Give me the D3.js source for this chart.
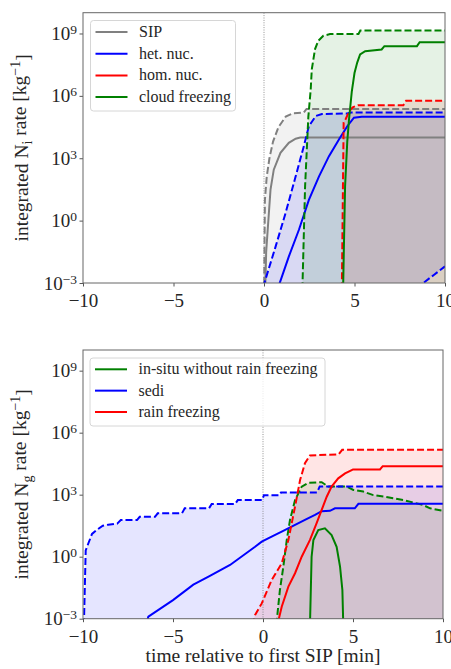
<!DOCTYPE html>
<html><head><meta charset="utf-8">
<script src="https://cdn.jsdelivr.net/npm/d3@7"></script>
<style>
body{margin:0;background:#fff}
svg{display:block}
svg text{font-family:"Liberation Serif","Times New Roman",serif !important;fill:#262626}
.tk{font-size:19px}
.lab{font-size:19.5px}
.leg{font-size:16px}
</style>
</head><body>
<svg id="c" width="451" height="669" font-family="Liberation Serif"></svg>
<script>
const FONT = "'Liberation Serif', 'Times New Roman', serif";
// ---------- shared axis data ----------
const xTicks = [-10, -5, 0, 5, 10];
const yTickExps = [-3, 0, 3, 6, 9];
const xDomain = [-10, 10];
const yDomainExp = [-3, 10];

// ---------- top panel: integrated N_i rate (pairs: [time min, log10 value]) ----------
const topNames = ["SIP", "het. nuc.", "hom. nuc.", "cloud freezing"];
const topColors = ["#808080", "#0000ff", "#ff0000", "#008000"];

const sipUpper = [[0,-4],[0.05,1.0],[0.15,2.1],[0.3,3.0],[0.5,3.8],[0.8,4.5],[1.2,5.0],[1.6,5.16],[2.2,5.2],[2.35,5.37],[10,5.37]];
const sipMedian = [[0.05,-4],[0.12,-1.5],[0.2,-0.5],[0.36,1.49],[0.54,2.45],[0.91,3.26],[1.37,3.74],[1.75,3.94],[2.0,4.0],[10,4.0]];
const sipLower = [[0,-6],[10,-6]];

const hetUpper = [[-0.05,-3.2],[0.64,-1.25],[1.19,0.36],[1.75,2.13],[2.2,3.58],[2.48,4.54],[2.86,5.03],[3.2,5.13],[4.6,5.15],[4.8,5.2],[10,5.2]];
const hetMedian = [[0.75,-3.3],[1.37,-1.73],[1.93,-0.44],[2.48,1.0],[3.04,2.13],[3.59,3.1],[4.14,3.9],[4.6,4.54],[4.97,4.95],[5.4,5.0],[10,5.0]];
const hetLower = [[-0.05,-6],[8.6,-6],[8.8,-3.0],[9.4,-2.6],[10,-2.2]];

const homUpper = [[4.3,-3.3],[4.4,4.72],[4.52,4.9],[4.7,5.25],[4.9,5.45],[5.2,5.55],[7.7,5.55],[7.85,5.77],[10,5.77]];
const homMedian = [];
const homLower = [[4.3,-6],[10,-6]];

const cloudUpper = [[2.12,-3.3],[2.27,1.65],[2.45,5.0],[2.58,6.3],[2.64,7.28],[2.82,8.25],[3.0,8.65],[3.28,8.89],[3.65,8.97],[5.22,8.98],[5.32,9.14],[10,9.14]];
const cloudMedian = [[4.37,-3.3],[4.48,1.65],[4.6,3.8],[4.7,4.9],[4.85,6.2],[5.0,7.1],[5.15,7.6],[5.31,7.99],[5.59,8.15],[6.5,8.23],[6.65,8.39],[8.45,8.39],[8.6,8.58],[10,8.58]];
const cloudLower = [[2.12,-6],[10,-6]];

// ---------- bottom panel: integrated N_g rate ----------
const botNames = ["in-situ without rain freezing", "sedi", "rain freezing"];
const botColors = ["#008000", "#0000ff", "#ff0000"];

const insituUpper = [[0.74,-3.3],[0.94,-1.61],[1.13,-0.48],[1.32,0.81],[1.5,1.78],[1.78,2.74],[2.15,3.39],[2.52,3.58],[3.26,3.6],[3.63,3.39],[4.65,3.39],[5.02,3.23],[5.57,3.15],[6.13,2.98],[6.78,2.9],[7.8,2.74],[8.9,2.5],[9.28,2.34],[10,2.22]];
const insituMedian = [[2.61,-3.3],[2.7,0.0],[2.8,0.81],[3.07,1.29],[3.44,1.37],[3.81,1.05],[4.09,0.48],[4.28,-0.48],[4.41,-1.61],[4.46,-3.3]];
const insituLower = [[0.74,-6],[10,-6]];

const sediUpper = [[-9.95,-3.3],[-9.85,0.3],[-9.7,0.65],[-9.5,1.1],[-9.24,1.29],[-8.9,1.5],[-8.6,1.55],[-8.1,1.6],[-7.9,1.77],[-7.0,1.77],[-6.85,1.93],[-6.0,1.93],[-5.85,2.1],[-4.5,2.1],[-4.35,2.34],[-3.0,2.34],[-2.85,2.55],[-1.55,2.55],[-1.4,2.74],[-0.05,2.74],[0.05,2.97],[0.9,2.97],[1.0,3.11],[3.0,3.11],[3.15,3.39],[10,3.39]];
const sediMedian = [[-6.5,-3.3],[-6.37,-2.9],[-5.0,-2.1],[-3.87,-1.35],[-3.0,-0.95],[-1.83,-0.4],[-0.44,0.48],[-0.07,0.73],[0.48,0.97],[1.04,1.21],[1.59,1.45],[2.33,1.78],[2.89,2.02],[3.26,2.2],[3.72,2.22],[4.0,2.34],[5.1,2.34],[5.3,2.56],[10,2.56]];
const sediLower = [[-9.95,-6],[10,-6]];

const rainUpper = [[-0.6,-3.3],[-0.44,-2.82],[-0.07,-2.26],[0.48,-1.13],[1.04,-0.32],[1.41,0.81],[1.78,2.42],[2.06,3.71],[2.33,4.52],[2.61,4.9],[4.2,4.95],[4.4,5.17],[10,5.17]];
const rainMedian = [[0.8,-3.3],[1.04,-2.42],[1.41,-1.45],[1.78,-0.8],[2.15,0.0],[2.61,0.81],[2.98,1.62],[3.26,2.26],[3.54,2.9],[3.81,3.39],[4.18,3.79],[4.56,4.03],[4.93,4.19],[5.0,4.22],[6.5,4.22],[6.65,4.38],[10,4.38]];
const rainLower = [[-0.6,-6],[10,-6]];

const topSeries = [
  {name: topNames[0], color: topColors[0], upper: sipUpper, median: sipMedian, lower: sipLower},
  {name: topNames[1], color: topColors[1], upper: hetUpper, median: hetMedian, lower: hetLower},
  {name: topNames[2], color: topColors[2], upper: homUpper, median: homMedian, lower: homLower},
  {name: topNames[3], color: topColors[3], upper: cloudUpper, median: cloudMedian, lower: cloudLower}
];
const botSeries = [
  {name: botNames[0], color: botColors[0], upper: insituUpper, median: insituMedian, lower: insituLower},
  {name: botNames[1], color: botColors[1], upper: sediUpper, median: sediMedian, lower: sediLower},
  {name: botNames[2], color: botColors[2], upper: rainUpper, median: rainMedian, lower: rainLower}
];

const svg = d3.select("#c");

function drawPanel(id, box, series, sub, legend, showXLabel) {
  const g = svg.append("g");
  const x = d3.scaleLinear().domain(xDomain).range([box.l, box.r]);
  const y = d3.scaleLog().domain(yDomainExp.map(e => Math.pow(10, e))).range([box.b, box.t]);
  const py = e => y(Math.pow(10, e));

  g.append("clipPath").attr("id", id).append("rect")
    .attr("x", box.l).attr("y", box.t).attr("width", box.r - box.l).attr("height", box.b - box.t);
  const plot = g.append("g").attr("clip-path", `url(#${id})`);

  const line = d3.line().x(d => x(d[0])).y(d => py(d[1]));

  series.forEach(s => {
    const poly = s.upper.concat(s.lower.slice().reverse());
    plot.append("path").attr("d", line(poly) + "Z")
      .attr("fill", s.color).attr("fill-opacity", 0.1).attr("stroke", "none");
  });

  plot.append("line").attr("x1", x(0)).attr("x2", x(0)).attr("y1", box.t).attr("y2", box.b)
    .attr("stroke", "#777").attr("stroke-width", 0.8).attr("stroke-dasharray", "1,1.4");

  series.forEach(s => {
    [s.lower, s.upper].forEach(arr => {
      plot.append("path").attr("d", line(arr)).attr("fill", "none")
        .attr("stroke", s.color).attr("stroke-width", 2).attr("stroke-dasharray", "7,3");
    });
    if (s.median.length) {
      plot.append("path").attr("d", line(s.median)).attr("fill", "none")
        .attr("stroke", s.color).attr("stroke-width", 2);
    }
  });

  const xa = g.append("g").attr("transform", `translate(0,${box.b})`)
    .call(d3.axisBottom(x).tickValues(xTicks).tickSize(3.5).tickSizeOuter(0).tickPadding(7)
      .tickFormat(v => v < 0 ? "\u2212" + Math.abs(v) : String(v)));
  const ya = g.append("g").attr("transform", `translate(${box.l},0)`)
    .call(d3.axisLeft(y).tickValues(yTickExps.map(e => Math.pow(10, e))).tickSize(3.5).tickSizeOuter(0).tickPadding(2.5)
      .tickFormat(() => ""));
  [xa, ya].forEach(a => {
    a.attr("font-family", FONT).attr("font-size", null);
    a.select(".domain").remove();
    a.selectAll(".tick line").attr("stroke", "#555");
    a.selectAll(".tick text").attr("class", "tk").style("font-family", FONT).style("font-size", "19px");
  });
  ya.selectAll(".tick text").each(function(d) {
    const t = d3.select(this);
    const e = Math.round(Math.log10(d));
    t.append("tspan").text("10");
    t.append("tspan").attr("dy", "-0.45em").style("font-size", "13.5px")
      .text(e < 0 ? "\u2212" + Math.abs(e) : String(e));
  });

  g.append("rect").attr("x", box.l).attr("y", box.t).attr("width", box.r - box.l).attr("height", box.b - box.t)
    .attr("fill", "none").attr("stroke", "#666").attr("stroke-width", 1);

  const yl = g.append("text").attr("class", "lab").attr("text-anchor", "middle")
    .style("font-family", FONT).style("font-size", "19.5px")
    .attr("transform", `translate(28,${(box.t + box.b) / 2}) rotate(-90)`);
  yl.append("tspan").text("integrated N");
  yl.append("tspan").attr("dy", "0.3em").style("font-size", "14px").text(sub);
  yl.append("tspan").attr("dy", "-0.3em").text(" rate [kg");
  yl.append("tspan").attr("dy", "-0.45em").style("font-size", "14px").text("\u22121");
  yl.append("tspan").attr("dy", "0.45em").text("]");

  if (showXLabel) {
    g.append("text").attr("class", "lab").attr("text-anchor", "middle")
      .style("font-family", FONT).style("font-size", "19.5px")
      .attr("x", (box.l + box.r) / 2).attr("y", 662).text("time relative to first SIP [min]");
  }

  const lg = g.append("g");
  lg.append("rect").attr("x", legend.x).attr("y", legend.y).attr("width", legend.w).attr("height", legend.h)
    .attr("rx", 3).attr("fill", "#fff").attr("fill-opacity", 0.8).attr("stroke", "#d6d6d6").attr("stroke-width", 1);
  series.forEach((s, i) => {
    const ry = legend.row0 + i * legend.step;
    lg.append("line").attr("x1", legend.x + 5).attr("x2", legend.x + 37).attr("y1", ry).attr("y2", ry)
      .attr("stroke", s.color).attr("stroke-width", 2);
    lg.append("text").attr("class", "leg").style("font-family", FONT).style("font-size", "16px")
      .attr("x", legend.x + 48.5).attr("y", ry + 5).text(s.name);
  });
}

drawPanel("clipTop", {l: 83, r: 445, t: 12.7, b: 283}, topSeries, "i",
  {x: 90.5, y: 20.5, w: 145, h: 90.5, row0: 32, step: 21.7}, false);
drawPanel("clipBot", {l: 83, r: 443, t: 350, b: 618.7}, botSeries, "g",
  {x: 90, y: 358, w: 235, h: 68, row0: 369.3, step: 21.35}, true);
</script>
</body></html>
